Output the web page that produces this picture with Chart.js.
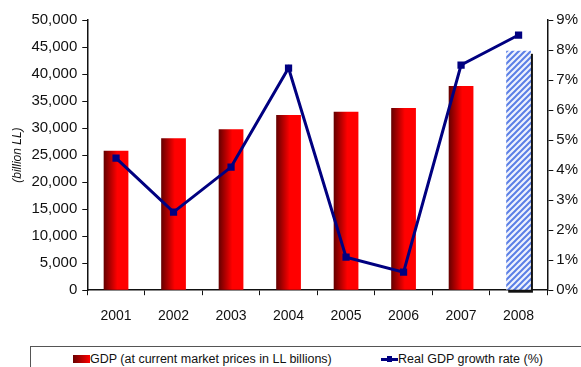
<!DOCTYPE html>
<html>
<head>
<meta charset="utf-8">
<script src="https://cdn.jsdelivr.net/npm/chart.js@4.4.1/dist/chart.umd.min.js"></script>
<style>
	html, body { margin: 0; padding: 0; background: #fff; }
	#wrap { position: relative; width: 581px; height: 367px; overflow: hidden; }
	#gdpChart { position: absolute; left: 0; top: 0; }
	#legend {
		position: absolute; left: 30px; top: 346px; width: 600px; height: 40px;
		border: 1px solid #555; box-sizing: border-box;
		font: 12.5px "Liberation Sans", Arial, sans-serif; color: #111;
	}
	.item { position: absolute; top: 5px; white-space: nowrap; }
	.swatch {
		display: inline-block; width: 17px; height: 8px; vertical-align: 0px;
		background: linear-gradient(to right, #6a0000, #ff0000);
	}
	.lineKey { display: inline-block; position: relative; width: 17px; height: 8px; }
	.lineKey:before { content: ""; position: absolute; left: 0; right: 0; top: 3px; height: 3px; background: #000080; }
	.lineKey:after { content: ""; position: absolute; left: 6px; top: 1px; width: 5px; height: 6px; background: #000080; }
</style>
</head>
<body>
<div id="wrap">
	<canvas id="gdpChart" width="581" height="345"></canvas>
	<div id="legend">
		<div class="item" style="left:42px"><span class="swatch"></span>GDP (at current market prices in LL billions)</div>
		<div class="item" style="left:350px"><span class="lineKey"></span>Real GDP growth rate (%)</div>
	</div>
</div>
<script>
const years = ["2001", "2002", "2003", "2004", "2005", "2006", "2007", "2008"];
const gdpBillionLL = [25800, 28100, 29800, 32400, 33000, 33700, 37800, 44300];
const realGrowthPct = [4.4, 2.6, 4.1, 7.4, 1.1, 0.6, 7.5, 8.5];
const gdpTicks = [0, 5000, 10000, 15000, 20000, 25000, 30000, 35000, 40000, 45000, 50000];
const growthTicks = [0, 1, 2, 3, 4, 5, 6, 7, 8, 9];

const barPct = 0.43;
const FONT = "'Liberation Sans', Arial, sans-serif";

// diagonal hatch for the projected year
function makeHatch(){
	const c = document.createElement("canvas");
	c.width = 6; c.height = 6;
	const g = c.getContext("2d");
	g.fillStyle = "#eef2fd";
	g.fillRect(0, 0, 6, 6);
	g.strokeStyle = "#5b7fe6";
	g.lineWidth = 2;
	g.beginPath();
	g.moveTo(-1, 7); g.lineTo(7, -1);
	g.moveTo(-4, 4); g.lineTo(4, -4);
	g.moveTo(2, 10); g.lineTo(10, 2);
	g.stroke();
	return g.createPattern(c, "repeat");
}

const ctx = document.getElementById("gdpChart").getContext("2d");
const hatch = makeHatch();

function barFill(context){
	const chart = context.chart;
	if(!chart.chartArea)
		return "#e00000";
	if(context.dataIndex === years.length - 1)
		return hatch;
	const xs = chart.scales.x;
	const x = xs.getPixelForValue(context.dataIndex);
	const half = xs.width / years.length * barPct / 2;
	let gradient = chart.ctx.createLinearGradient(x - half, 0, x + half, 0);
	gradient.addColorStop(0, "#640000");
	gradient.addColorStop(0.55, "#ff0000");
	gradient.addColorStop(1, "#ff0000");
	return gradient;
}

// dark drop shadow behind the hatched bar
const shadowPlugin = {
	id: "barShadow",
	beforeDatasetDraw(chart, args){
		if(args.index !== 1) return;
		const bar = chart.getDatasetMeta(1).data[years.length - 1];
		if(!bar) return;
		const c = chart.ctx;
		c.save();
		c.fillStyle = "#111";
		c.fillRect(bar.x - bar.width / 2 + 2, bar.y + 3, bar.width, bar.base - bar.y);
		c.restore();
	}
};

const axisTicks = { color: "#111", font: { family: FONT, size: 15 } };

new Chart(ctx, {
	type: "bar",
	data: {
		labels: years,
		datasets: [
			{
				type: "line",
				label: "Real GDP growth rate (%)",
				data: realGrowthPct,
				yAxisID: "y1",
				borderColor: "#000080",
				backgroundColor: "#000080",
				borderWidth: 3,
				pointStyle: "rect",
				pointRadius: 3,
				pointHoverRadius: 3,
				tension: 0,
				order: 0,
			},
			{
				label: "GDP (at current market prices in LL billions)",
				data: gdpBillionLL,
				yAxisID: "y",
				backgroundColor: barFill,
				categoryPercentage: 1,
				barPercentage: barPct,
				order: 1,
			},
		],
	},
	options: {
		responsive: false,
		animation: false,
		layout: { padding: { left: 8, right: 0, top: 20, bottom: 7 } },
		plugins: {
			legend: { display: false },
			tooltip: { enabled: false },
		},
		scales: {
			x: {
				grid: { display: true, drawOnChartArea: false, color: "#111", tickLength: 5 },
				border: { color: "#111", width: 1.5 },
				ticks: { color: "#111", font: { family: FONT, size: 14 }, padding: 13 },
			},
			y: {
				position: "left",
				min: gdpTicks[0],
				max: gdpTicks[gdpTicks.length - 1],
				afterBuildTicks: (axis) => { axis.ticks = gdpTicks.map(v => ({ value: v })); },
				grid: { display: true, drawOnChartArea: false, color: "#111", tickLength: 5 },
				border: { color: "#111", width: 1.5 },
				ticks: Object.assign({}, axisTicks, {
					padding: 5,
					callback: v => v.toLocaleString("en-US"),
				}),
				title: {
					display: true,
					text: "(billion LL)",
					color: "#111",
					font: { family: FONT, size: 12, style: "italic" },
					padding: 2,
				},
			},
			y1: {
				position: "right",
				min: growthTicks[0],
				max: growthTicks[growthTicks.length - 1],
				afterBuildTicks: (axis) => { axis.ticks = growthTicks.map(v => ({ value: v })); },
				grid: { display: true, drawOnChartArea: false, color: "#111", tickLength: 6 },
				border: { color: "#111", width: 1.5 },
				ticks: Object.assign({}, axisTicks, {
					padding: 3,
					callback: v => v + "%",
				}),
			},
		},
	},
	plugins: [shadowPlugin],
});
</script>
</body>
</html>
